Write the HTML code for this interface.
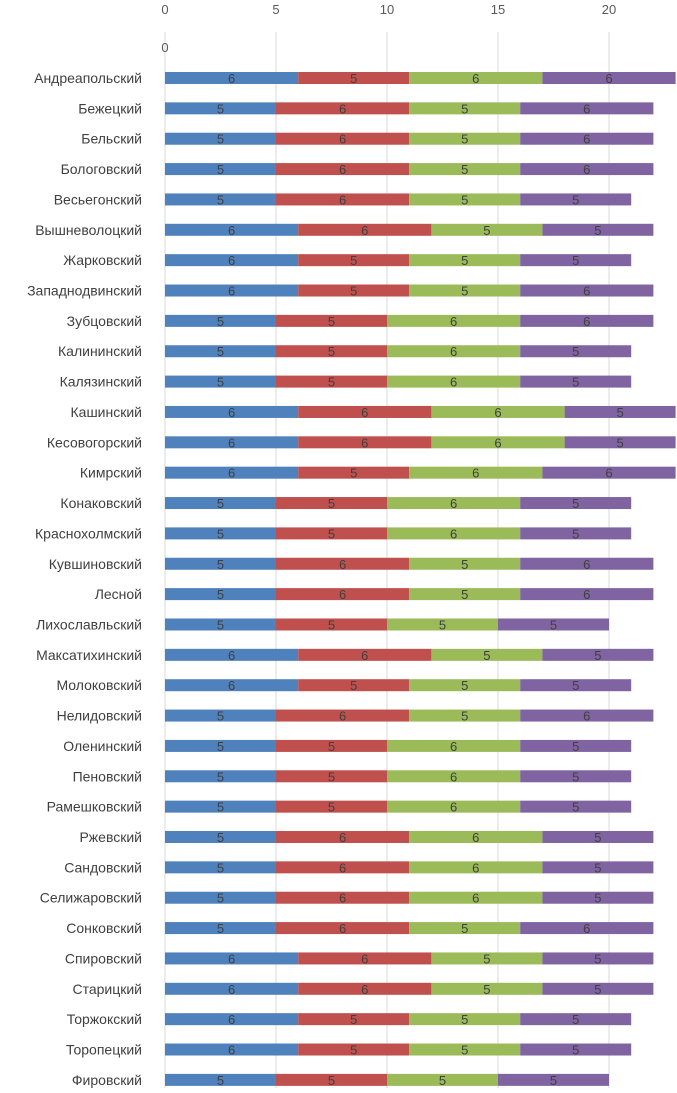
<!DOCTYPE html>
<html><head><meta charset="utf-8"><style>
body{margin:0;background:#fff;width:677px;height:1088px;overflow:hidden}
svg{font-family:"Liberation Sans","DejaVu Sans",sans-serif}
</style></head><body>
<svg id="chart" width="677" height="1088" xmlns="http://www.w3.org/2000/svg"></svg>
<script>
const categories=["Андреапольский","Бежецкий","Бельский","Бологовский","Весьегонский","Вышневолоцкий","Жарковский","Западнодвинский","Зубцовский","Калининский","Калязинский","Кашинский","Кесовогорский","Кимрский","Конаковский","Краснохолмский","Кувшиновский","Лесной","Лихославльский","Максатихинский","Молоковский","Нелидовский","Оленинский","Пеновский","Рамешковский","Ржевский","Сандовский","Селижаровский","Сонковский","Спировский","Старицкий","Торжокский","Торопецкий","Фировский"];
const series1=[6,5,5,5,5,6,6,6,5,5,5,6,6,6,5,5,5,5,5,6,6,5,5,5,5,5,5,5,5,6,6,6,6,5];
const series2=[5,6,6,6,6,6,5,5,5,5,5,6,6,5,5,5,6,6,5,6,5,6,5,5,5,6,6,6,6,6,6,5,5,5];
const series3=[6,5,5,5,5,5,5,5,6,6,6,6,6,6,6,6,5,5,5,5,5,5,6,6,6,6,6,6,5,5,5,5,5,5];
const series4=[6,6,6,6,5,5,5,6,6,5,5,5,5,6,5,5,6,6,5,5,5,6,5,5,5,5,5,5,6,5,5,5,5,5];
const ticks=[0,5,10,15,20];
const colors=["#4f81bd","#c0504d","#9bbb59","#8064a2"];
const NS="http://www.w3.org/2000/svg";
const svg=document.getElementById("chart");
const x=v=>165+v*22.2;
const y=i=>78+i*30.36;
function mk(t,a){const e=document.createElementNS(NS,t);for(const k in a)e.setAttribute(k,a[k]);svg.appendChild(e);return e;}
ticks.forEach(t=>{
  const g=mk("line",{x1:x(t),x2:x(t),y1:32,y2:1088,stroke:"#d9d9d9","stroke-width":1});
  
  
  const l=mk("text",{x:x(t),y:14,"text-anchor":"middle","font-size":13,fill:"#595959"});
  l.textContent=t;
  
  
});
const z=mk("text",{x:165,y:52,"text-anchor":"middle","font-size":13,fill:"#595959"});z.textContent="0";


const all=[series1,series2,series3,series4];
categories.forEach((c,i)=>{
  const cy=y(i);
  const lb=mk("text",{x:142,y:cy+5,"text-anchor":"end","font-size":14,fill:"#404040"});
  lb.textContent=c;
  
  
  let acc=0;
  all.forEach((s,k)=>{
    const v=s[i];
    const r=mk("rect",{x:x(acc),y:cy-6,width:x(acc+v)-x(acc),height:12,fill:colors[k]});
    
    
    const t=mk("text",{x:(x(acc)+x(acc+v))/2,y:cy+5,"text-anchor":"middle","font-size":13,fill:"#404040"});
    t.textContent=v;
    
    
    acc+=v;
  });
});
</script>
</body></html>
